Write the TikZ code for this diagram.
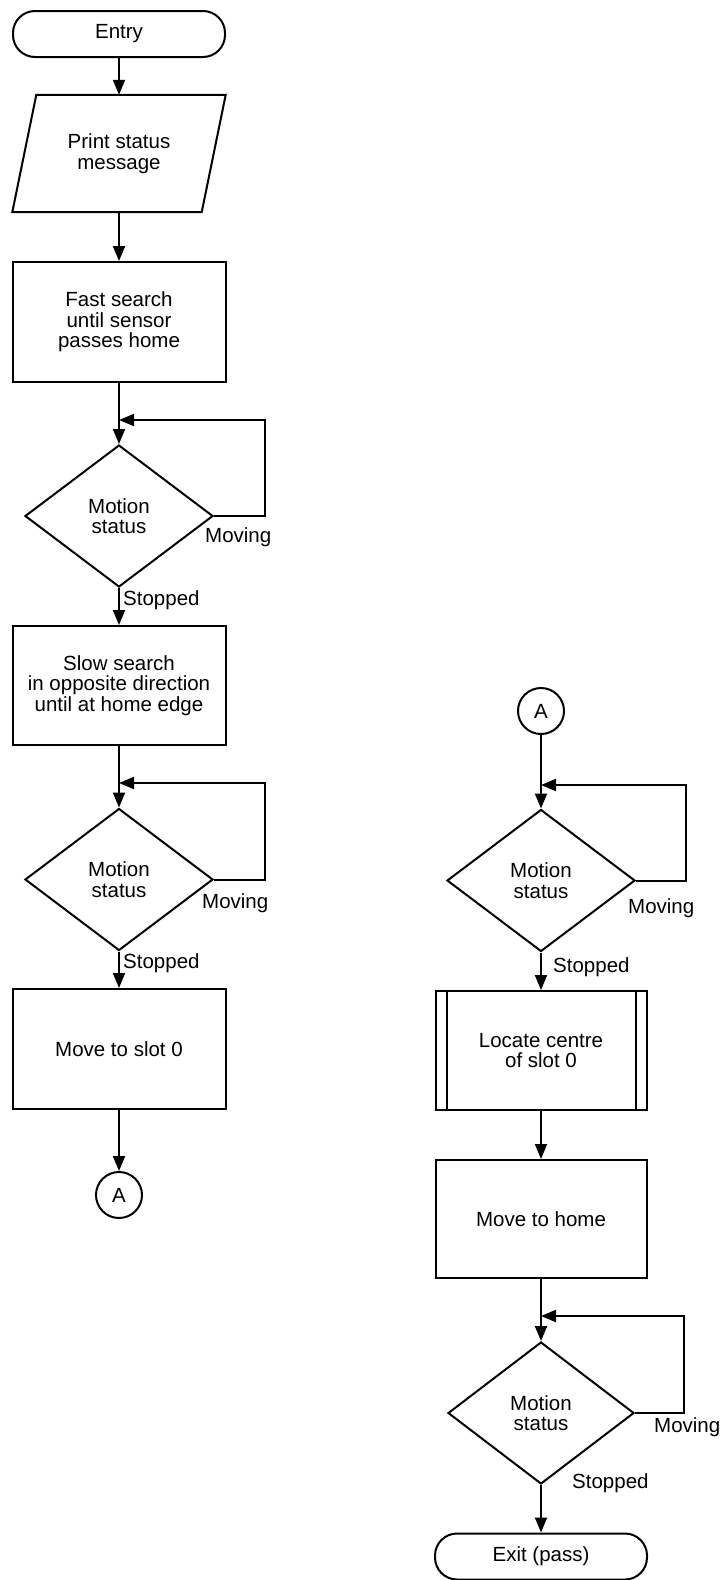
\documentclass[tikz,border=0pt]{standalone}
\usepackage{fontspec}
\setmainfont{Liberation Sans}
\usetikzlibrary{shapes.geometric,arrows.meta}
\newcommand\flowfont{\fontsize{20.5pt}{20.5pt}\selectfont}
\begin{document}
\begin{tikzpicture}[x=1pt,y=-1pt,
  base/.style={draw, line width=2pt, align=center, inner sep=0pt, font=\flowfont},
  term/.style={base, rectangle, rounded corners=22pt, minimum width=212pt, minimum height=46pt},
  proc/.style={base, rectangle, minimum width=213pt, minimum height=119pt},
  decide/.style={base, diamond, minimum width=188pt, minimum height=142pt},
  conn/.style={base, circle, minimum size=46pt},
  lbl/.style={inner sep=0pt, anchor=north west, font=\flowfont},
  flow/.style={line width=2pt, -{Triangle[length=15pt,width=12pt]}},
  edge/.style={line width=2pt}]
\useasboundingbox (0,0) rectangle (725,1580);

% left column
\node[term] (entry) at (119,34) {Entry};
\node[inner sep=0pt, minimum width=189pt, minimum height=117pt, align=center, font=\flowfont]
  (print) at (119,153.5) {Print status\\message};
\draw[edge, line join=miter]
  ([xshift=12pt]print.north west) -- ([xshift=12pt]print.north east)
  -- ([xshift=-12pt]print.south east) -- ([xshift=-12pt]print.south west) -- cycle;
\node[proc, minimum height=120pt] (fast) at (119,322) {Fast search\\until sensor\\passes home};
\node[decide] (d1) at (119,516) {Motion\\status};
\node[proc] (slow) at (119,685.5) {Slow search\\in opposite direction\\until at home edge};
\node[decide] (d2) at (119,879.5) {Motion\\status};
\node[proc, minimum height=120pt] (slot) at (119,1049) {Move to slot 0};
\node[conn] (a1) at (119,1195) {A};

\coordinate (j1) at (119,420);
\coordinate (j2) at (119,783);

\draw[flow] (entry) -- (print.north);
\draw[flow] (print.south) -- (fast);
\draw[flow] (fast) -- (d1);
\draw[flow] (d1.east) -- ++(51,0) |- (j1);
\draw[flow] (d1) -- (slow);
\draw[flow] (slow) -- (d2);
\draw[flow] (d2.east) -- ++(51,0) |- (j2);
\draw[flow] (d2) -- (slot);
\draw[flow] (slot) -- (a1);

\node[lbl] (mv1) at (205,527) {Moving};
\node[lbl] (st1) at (123,590) {Stopped};
\node[lbl] (mv2) at (202,893) {Moving};
\node[lbl] (st2) at (123,953) {Stopped};

% right column
\node[conn] (a2) at (541,711) {A};
\node[decide] (d3) at (541,880.5) {Motion\\status};
\node[proc, minimum width=211pt] (loc) at (541,1050.5) {Locate centre\\of slot 0};
\draw[edge] ([xshift=12pt]loc.north west) -- ([xshift=12pt]loc.south west);
\draw[edge] ([xshift=-12pt]loc.north east) -- ([xshift=-12pt]loc.south east);
\node[proc, minimum width=211pt, minimum height=118pt] (home) at (541,1219) {Move to home};
\node[decide, minimum width=186pt] (d4) at (541,1413) {Motion\\status};
\node[term] (exit) at (541,1556.5) {Exit (pass)};

\coordinate (j3) at (541,785);
\coordinate (j4) at (541,1316);

\draw[flow] (a2) -- (d3);
\draw[flow] (d3.east) -- ++(50,0) |- (j3);
\draw[flow] (d3) -- (loc);
\draw[flow] (loc) -- (home);
\draw[flow] (home) -- (d4);
\draw[flow] (d4.east) -- ++(49,0) |- (j4);
\draw[flow] (d4) -- (exit);

\node[lbl] (mv3) at (628,898) {Moving};
\node[lbl] (st3) at (553,957) {Stopped};
\node[lbl] (mv4) at (654,1417) {Moving};
\node[lbl] (st4) at (572,1473) {Stopped};
\end{tikzpicture}
\end{document}
